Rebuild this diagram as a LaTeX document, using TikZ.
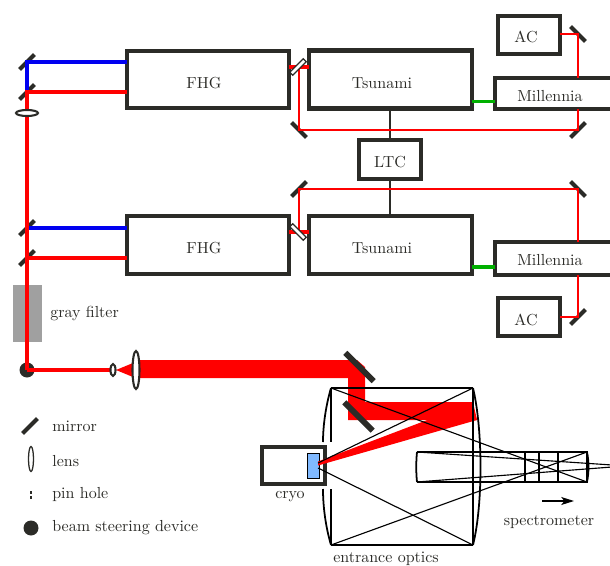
\documentclass[tikz,border=0pt]{standalone}
\usepackage{xcolor}
\definecolor{boxdark}{HTML}{2B2B27}
\definecolor{beamred}{HTML}{FF0000}
\definecolor{beamblue}{HTML}{0000F0}
\definecolor{beamgreen}{HTML}{00B000}
\definecolor{samplblue}{HTML}{80B9FF}
\definecolor{filtergray}{HTML}{A0A0A0}
\usetikzlibrary{arrows.meta, positioning, calc, shapes.geometric}

\begin{document}
\begin{tikzpicture}[
    x=0.625pt, y=-0.625pt,
    box/.style 2 args={rectangle, draw=boxdark, line width=2.9pt, outer sep=0pt, inner sep=0pt, minimum width=#1*0.625pt, minimum height=#2*0.625pt},
    mirror/.style={rectangle, fill=boxdark, outer sep=0pt, inner sep=0pt, minimum width=21*0.625pt, minimum height=2.6pt},
    bigmirror/.style={mirror, minimum width=40*0.625pt, minimum height=3.6pt},
    splitter/.style={rectangle, draw=boxdark, fill=white, line width=0.8pt, outer sep=0pt, inner sep=0pt, minimum width=19*0.625pt, minimum height=2.6pt},
    lens/.style 2 args={ellipse, draw=boxdark, fill=white, line width=1.3pt, outer sep=0pt, inner sep=0pt, minimum width=#1*0.625pt, minimum height=#2*0.625pt},
    steer/.style={circle, fill=boxdark, outer sep=0pt, inner sep=0pt, minimum size=15*0.625pt},
    txt/.style={inner sep=0pt, text=boxdark},
    txtl/.style={txt, anchor=west},
    beam/.style={line width=1.9pt, color=#1},
    thinbeam/.style={line width=1.3pt, color=beamred},
    ray/.style={line width=0.7pt, black},
    optic/.style={line width=1.6pt, black},
    sync/.style={line width=0.7pt, boxdark},
]
    \useasboundingbox (0,0) rectangle (610,566);
    \node[rectangle, fill=filtergray, minimum width=29*0.625pt, minimum height=57*0.625pt, inner sep=0pt] (filter) at (27.5,313.5) {};

    % boxes
    \node[box={162}{57}] (fhga) at (208,79.5) {};
    \node[box={163}{58}] (tsua) at (390.5,79.5) {};
    \node[box={162}{58}] (fhgb) at (208,245) {};
    \node[box={163}{58}] (tsub) at (390.5,245) {};
    \node[box={62}{39}] (ltc) at (390,159.5) {};
    \node[box={62}{38}] (aca) at (529,35) {};
    \node[box={62}{38}] (acb) at (529,317) {};
    \node[box={125}{31}] (mila) at (557.5,93.5) {};
    \node[box={125}{33}] (milb) at (557.5,258.5) {};
    \node[box={63}{37}] (cryo) at (293.5,465.5) {};
    \node[rectangle, draw=black, fill=samplblue, line width=0.6pt, inner sep=0pt, outer sep=0pt, minimum width=12*0.625pt, minimum height=25*0.625pt] (sample) at (313,465.5) {};

    % mirrors
    \node[mirror, rotate=45] (ma) at (27,62) {};
    \node[mirror, rotate=45] (mb) at (27,92) {};
    \node[mirror, rotate=45] (mc) at (27,228) {};
    \node[mirror, rotate=45] (md) at (27,258) {};
    \node[mirror, rotate=-45] (me) at (299,130) {};
    \node[mirror, rotate=45] (mf) at (578,130) {};
    \node[mirror, rotate=-45] (mg) at (578,34) {};
    \node[mirror, rotate=45] (mh) at (299,189) {};
    \node[mirror, rotate=-45] (mi) at (578,189) {};
    \node[mirror, rotate=45] (mj) at (578,317) {};
    \coordinate (spa) at (298,67);
    \coordinate (spb) at (298,232);
    \node[steer] (steerdev) at (27,370) {};
    \coordinate (lensa) at (27,113);
    \coordinate (lensb) at (113,370);
    \coordinate (lensc) at (136,370);

    % laser beams
    \draw[beam=beamblue] (fhga.west |- ma) -- (ma.center) -- (mb.center);
    \draw[beam=beamblue] (fhgb.west |- mc) -- (mc.center);
    \draw[beam=beamred] (fhga.west |- mb) -- (mb.center) -- (steerdev.center);
    \draw[beam=beamred] (fhgb.west |- md) -- (md.center);
    \draw[beam=beamred] (steerdev.center) -- (lensb);
    \draw[beam=beamred] (fhga.east |- spa) -- (tsua.west |- spa);
    \draw[beam=beamred] (fhgb.east |- spb) -- (tsub.west |- spb);
    \draw[beam=beamgreen] (tsua.east |- 0,101.5) -- (mila.west |- 0,101.5);
    \draw[beam=beamgreen] (tsub.east |- 0,267) -- (milb.west |- 0,267);

    % sync lines
    \draw[sync] (tsua.south -| ltc) -- (ltc);
    \draw[sync] (ltc) -- (tsub.north -| ltc);

    % cavity lines
    \draw[thinbeam] (spa -| me) -- (me.center) -- (mf.center) -- (mila.south -| mf);
    \draw[thinbeam] (mila.north -| mg) -- (mg.center) -- (aca.east |- mg);
    \draw[thinbeam] (spb -| mh) -- (mh.center) -- (mi.center) -- (milb.north -| mi);
    \draw[thinbeam] (milb.south -| mj) -- (mj.center) -- (acb.east |- mj);
    \node[splitter, rotate=45] (spu) at (spa) {};
    \node[splitter, rotate=-45] (spl) at (spb) {};

    % pump beam up to the cryo
    \fill[beamred] (116,370) -- (133,363) -- (133,377) -- cycle;
    \fill[beamred] (136,360) -- (357,360) -- (365,367) -- (365,402) -- (473,402) -- (477,420) -- (348,420) -- (348,378) -- (136,378) -- cycle;
    \fill[beamred] (472,403) -- (318,461.5) -- (318,465.5) -- (477,420) -- cycle;
    \node[lens={22}{6}] (lna) at (lensa) {};
    \node[lens={5}{12}] (lnb) at (lensb) {};
    \node[lens={7}{38}] (lnc) at (lensc) {};
    \node[bigmirror, rotate=-45] (mk) at (359.5,367) {};
    \node[bigmirror, rotate=-45] (ml) at (358.5,416.5) {};

    % entrance optics
    \coordinate (ela) at (331,388);
    \coordinate (elb) at (331,545);
    \coordinate (era) at (473,388);
    \coordinate (erb) at (473,545);
    \coordinate (sla) at (417,452);
    \coordinate (slb) at (417,482);
    \coordinate (sra) at (587,452);
    \coordinate (srb) at (587,482);
    \draw[optic] (ela) -- (331,442);
    \draw[optic] (331,489) -- (elb);
    \draw[ray, line width=1.1pt] (ela) .. controls (326,405) and (323,425) .. (323,442);
    \draw[ray, line width=1.1pt] (323,489) .. controls (323,508) and (326,528) .. (elb);
    \draw[optic] (era) -- (erb);
    \draw[ray, line width=1.1pt] (era) .. controls (483,430) and (483,505) .. (erb);
    \draw[ray] (ela) -- (era);
    \draw[ray] (elb) -- (erb);
    \draw[ray] (era) -- (318,463);
    \draw[ray] (318,468) -- (erb);
    \draw[ray] (ela) -- (srb);
    \draw[ray] (elb) -- (sra);

    % spectrometer
    \draw[ray] (sla) -- (sra) -- (srb) -- (slb);
    \draw[ray, line width=1.1pt] (sla) .. controls (416,462) and (416,472) .. (slb);
    \draw[ray, line width=1.1pt] (sra) .. controls (589,462) and (589,472) .. (srb);
    \draw[ray] (sla) -- (612,465);
    \draw[ray] (slb) -- (612,467);
    \foreach \gx in {525,539,558}
        \draw[ray] (\gx,452) -- (\gx,482);
    \coordinate (dira) at (542,501);
    \coordinate (dirb) at (574,501);
    \draw[ray, -{Stealth[length=8pt, width=5pt, inset=2pt]}] (dira) -- (dirb);

    % legend
    \node[mirror, rotate=45] (lega) at (30,426) {};
    \node[lens={5}{25}, line width=0.8pt] (legb) at (31,459) {};
    \fill[boxdark] (30,490.5) rectangle (32,493.5);
    \fill[boxdark] (30,495.5) rectangle (32,498.5);
    \node[steer] (legd) at (31,528) {};

    % labels
    \node[txt] (fhgat) at (204,83) {FHG};
    \node[txt] (fhgbt) at (204,248) {FHG};
    \node[txt] (tsuat) at (382,83) {Tsunami};
    \node[txt] (tsubt) at (382,248) {Tsunami};
    \node[txt] (ltct) at (390,162) {LTC};
    \node[txt] (acat) at (526,37) {AC};
    \node[txt] (acbt) at (526,320) {AC};
    \node[txt] (milat) at (550,96) {Millennia};
    \node[txt] (milbt) at (550,260) {Millennia};
    \node[txtl] (filtert) at (50,314) {gray filter};
    \node[txtl] (legat) at (52,426) {mirror};
    \node[txtl] (legbt) at (52,461) {lens};
    \node[txtl] (legct) at (52,494) {pin hole};
    \node[txtl] (legdt) at (52,528) {beam steering device};
    \node[txt] (cryot) at (290,497) {cryo};
    \node[txt] (spect) at (549,522) {spectrometer};
    \node[txt] (entrt) at (386,559) {entrance optics};
\end{tikzpicture}
\end{document}
